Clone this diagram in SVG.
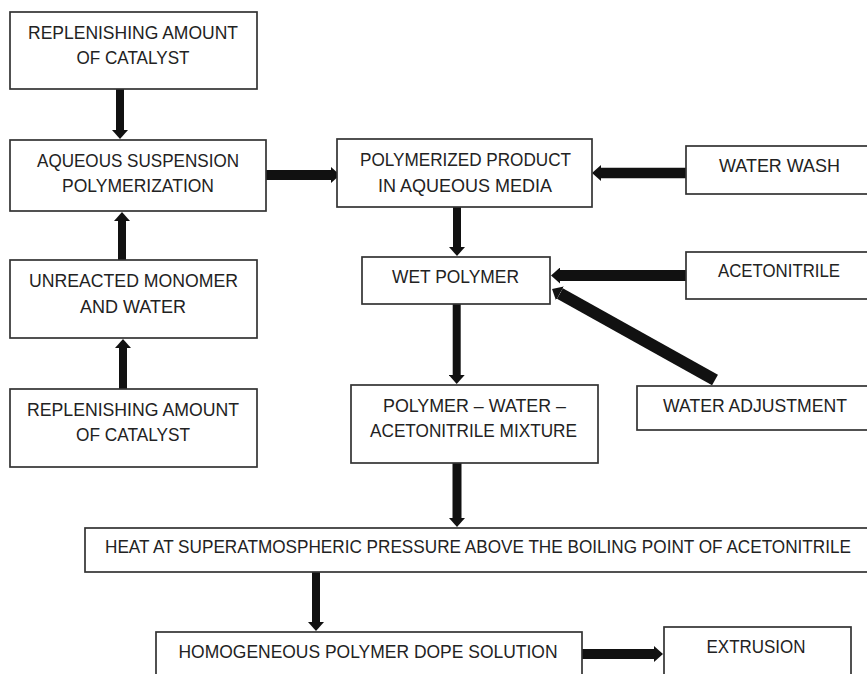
<svg xmlns="http://www.w3.org/2000/svg" width="867" height="674" viewBox="0 0 867 674">
<style>
.box{fill:#fff;stroke:#333;stroke-width:1.7}
.t{font-family:"Liberation Sans",Arial,sans-serif;font-size:18px;fill:#222;text-anchor:middle}
.c{stroke:#111;fill:none}
</style>
<defs>
<marker id="ah" markerUnits="userSpaceOnUse" markerWidth="9" markerHeight="16" refX="0" refY="8" orient="auto" viewBox="0 0 9 16">
<path d="M0,0 L9,8 L0,16 z" fill="#111"/>
</marker>
</defs>
<rect width="867" height="674" fill="#fff"/>
<g id="connectors">
<line class="c" x1="120" y1="89" x2="120" y2="130" stroke-width="8" marker-end="url(#ah)"/>
<line class="c" x1="122" y1="260" x2="122" y2="221" stroke-width="8" marker-end="url(#ah)"/>
<line class="c" x1="123" y1="389" x2="123" y2="348" stroke-width="8" marker-end="url(#ah)"/>
<line class="c" x1="266" y1="175" x2="331" y2="175" stroke-width="10" marker-end="url(#ah)"/>
<line class="c" x1="686" y1="173" x2="601" y2="173" stroke-width="10.5" marker-end="url(#ah)"/>
<line class="c" x1="457" y1="207" x2="457" y2="247" stroke-width="8" marker-end="url(#ah)"/>
<line class="c" x1="686" y1="275.5" x2="560" y2="275.5" stroke-width="11" marker-end="url(#ah)"/>
<line class="c" x1="715" y1="380" x2="559.9" y2="293.4" stroke-width="12" marker-end="url(#ah)"/>
<line class="c" x1="456.7" y1="304" x2="456.7" y2="375" stroke-width="8" marker-end="url(#ah)"/>
<line class="c" x1="457" y1="463" x2="457" y2="518" stroke-width="9" marker-end="url(#ah)"/>
<line class="c" x1="316" y1="572" x2="316" y2="622" stroke-width="8" marker-end="url(#ah)"/>
<line class="c" x1="582" y1="654" x2="654" y2="654" stroke-width="10" marker-end="url(#ah)"/>
</g>
<g id="replenish1"><rect class="box" x="10" y="12" width="247" height="77"/>
<text class="t" x="133" y="39" textLength="210" lengthAdjust="spacingAndGlyphs">REPLENISHING AMOUNT</text>
<text class="t" x="133" y="64" textLength="113" lengthAdjust="spacingAndGlyphs">OF CATALYST</text></g>
<g id="aqueous"><rect class="box" x="10" y="140" width="256" height="71"/>
<text class="t" x="138" y="167" textLength="202" lengthAdjust="spacingAndGlyphs">AQUEOUS SUSPENSION</text>
<text class="t" x="138" y="192" textLength="152" lengthAdjust="spacingAndGlyphs">POLYMERIZATION</text></g>
<g id="unreacted"><rect class="box" x="10" y="260" width="247" height="78"/>
<text class="t" x="133.5" y="287" textLength="209" lengthAdjust="spacingAndGlyphs">UNREACTED MONOMER</text>
<text class="t" x="133" y="313" textLength="106" lengthAdjust="spacingAndGlyphs">AND WATER</text></g>
<g id="replenish2"><rect class="box" x="10" y="389" width="247" height="78"/>
<text class="t" x="133" y="416" textLength="212" lengthAdjust="spacingAndGlyphs">REPLENISHING AMOUNT</text>
<text class="t" x="133" y="441" textLength="114" lengthAdjust="spacingAndGlyphs">OF CATALYST</text></g>
<g id="polymerized"><rect class="box" x="337" y="139" width="255" height="68"/>
<text class="t" x="465.5" y="166" textLength="211" lengthAdjust="spacingAndGlyphs">POLYMERIZED PRODUCT</text>
<text class="t" x="465" y="192" textLength="174" lengthAdjust="spacingAndGlyphs">IN AQUEOUS MEDIA</text></g>
<g id="waterwash"><rect class="box" x="686" y="146" width="190" height="48"/>
<text class="t" x="779.5" y="172" textLength="121" lengthAdjust="spacingAndGlyphs">WATER WASH</text></g>
<g id="wetpolymer"><rect class="box" x="362" y="257" width="188" height="47"/>
<text class="t" x="455.5" y="283" textLength="127" lengthAdjust="spacingAndGlyphs">WET POLYMER</text></g>
<g id="acetonitrile"><rect class="box" x="686" y="252" width="190" height="47"/>
<text class="t" x="779" y="277" textLength="122" lengthAdjust="spacingAndGlyphs">ACETONITRILE</text></g>
<g id="mixture"><rect class="box" x="351" y="385" width="247" height="78"/>
<text class="t" x="474.5" y="412" textLength="183" lengthAdjust="spacingAndGlyphs">POLYMER – WATER –</text>
<text class="t" x="473.5" y="437" textLength="207" lengthAdjust="spacingAndGlyphs">ACETONITRILE MIXTURE</text></g>
<g id="wateradj"><rect class="box" x="637" y="386" width="240" height="44"/>
<text class="t" x="755" y="412" textLength="184" lengthAdjust="spacingAndGlyphs">WATER ADJUSTMENT</text></g>
<g id="heat"><rect class="box" x="85" y="528" width="800" height="44"/>
<text class="t" x="478" y="553" textLength="746" lengthAdjust="spacingAndGlyphs">HEAT AT SUPERATMOSPHERIC PRESSURE ABOVE THE BOILING POINT OF ACETONITRILE</text></g>
<g id="homogeneous"><rect class="box" x="156" y="632" width="426" height="60"/>
<text class="t" x="368" y="658" textLength="379" lengthAdjust="spacingAndGlyphs">HOMOGENEOUS POLYMER DOPE SOLUTION</text></g>
<g id="extrusion"><rect class="box" x="664" y="627" width="187" height="60"/>
<text class="t" x="756" y="653" textLength="99" lengthAdjust="spacingAndGlyphs">EXTRUSION</text></g>
</svg>
